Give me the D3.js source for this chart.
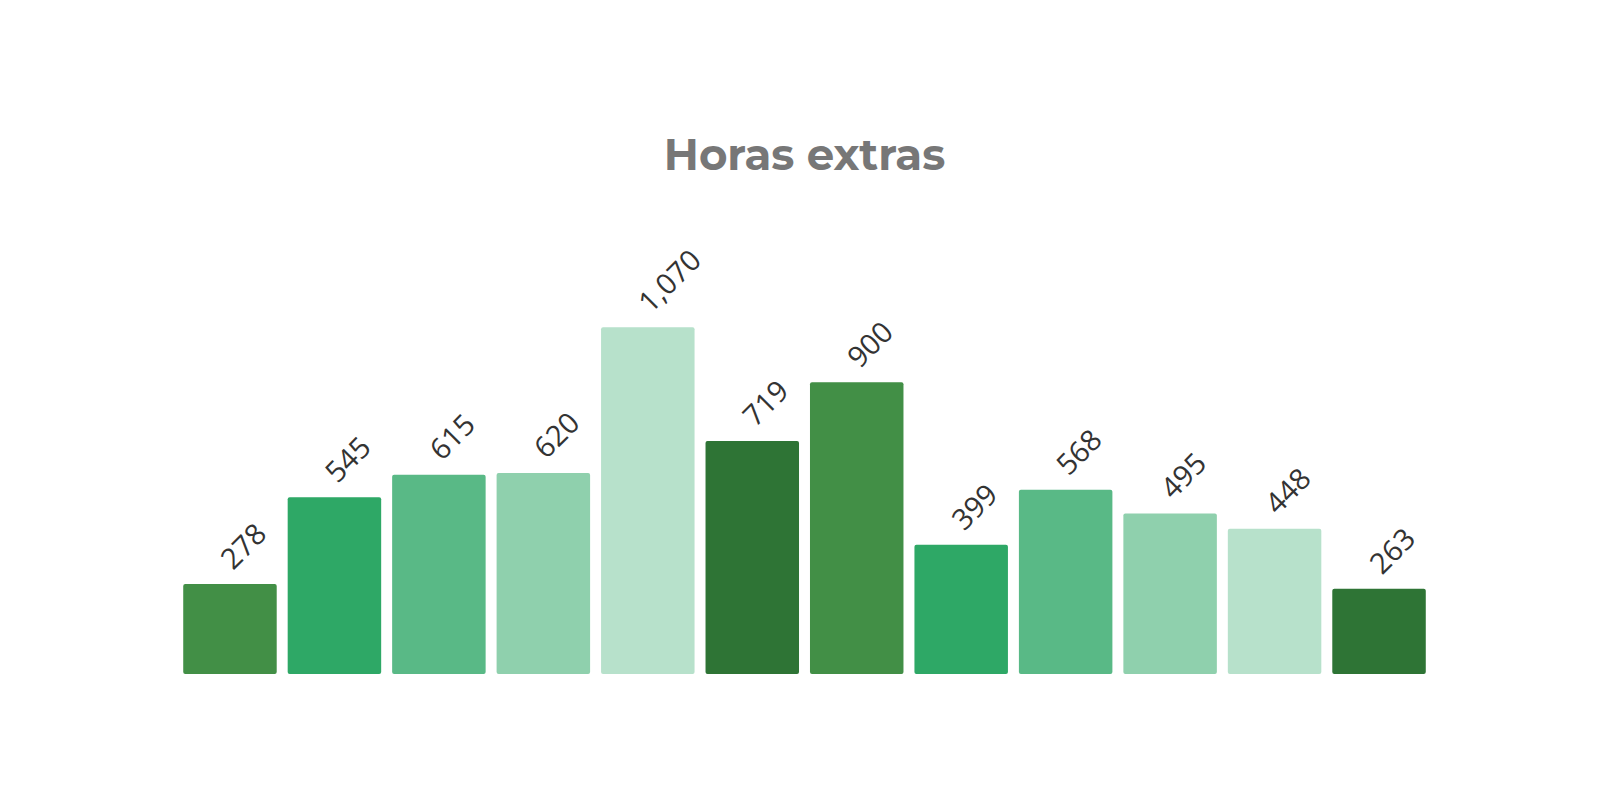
<!DOCTYPE html>
<html>
<head>
<meta charset="utf-8">
<script src="https://d3js.org/d3.v7.min.js"></script>
<style>
    body { margin: 0; background: #ffffff; }
    svg { display: block; }
</style>
</head>
<body>
<div id="chart"></div>
<script>
// DATA
var meses = ["Ene", "Feb", "Mar", "Abr", "May", "Jun", "Jul", "Ago", "Sep", "Oct", "Nov", "Dic"];
var horas = [278, 545, 615, 620, 1070, 719, 900, 399, 568, 495, 448, 263];
var colores = ["#428f46", "#2ea866", "#59b986", "#8fd0ad", "#b7e1cb", "#2e7435"];
var titulo = "Horas extras";

//////////////////////////////////////////////////////////////

function buildChart() {
    var width = 1600, height = 800;
    var margin = { top: 285, right: 169, bottom: 126, left: 178 };

    var svg = d3.select("#chart")
        .append("svg")
        .attr("width", width)
        .attr("height", height);

    var x = d3.scaleBand()
        .domain(meses)
        .range([margin.left, width - margin.right])
        .paddingInner(0.105)
        .paddingOuter(0.05);

    var y = d3.scaleLinear()
        .domain([0, 1200])
        .range([height - margin.bottom, margin.top]);

    var data = meses.map((m, i) => ({ mes: m, valor: horas[i], color: colores[i % colores.length] }));

    // TITLE
    svg.append("text")
        .attr("x", (margin.left + width - margin.right) / 2)
        .attr("y", 170)
        .attr("text-anchor", "middle")
        .style("font-family", "Montserrat, 'Open Sans', sans-serif")
        .style("font-weight", "bold")
        .style("font-size", "43.5px")
        .style("fill", "#777777")
        .text(titulo);

    // BARS
    svg.selectAll("rect.bar")
        .data(data)
        .enter()
        .append("rect")
        .attr("class", "bar")
        .attr("x", d => x(d.mes))
        .attr("y", d => y(d.valor))
        .attr("width", x.bandwidth())
        .attr("height", d => y(0) - y(d.valor))
        .attr("rx", 2)
        .attr("ry", 2)
        .style("fill", d => d.color);

    // LABELS
    svg.selectAll("text.label")
        .data(data)
        .enter()
        .append("text")
        .attr("class", "label")
        .attr("transform", d => "translate(" + (x(d.mes) + x.bandwidth() / 2 + 3) + "," + (y(d.valor) - 13) + ") rotate(-45)")
        .attr("text-anchor", "start")
        .style("font-family", "'Open Sans', sans-serif")
        .style("font-size", "29px")
        .style("fill", "#333333")
        .text(d => d3.format(",")(d.valor));
}

buildChart();
</script>
</body>
</html>
